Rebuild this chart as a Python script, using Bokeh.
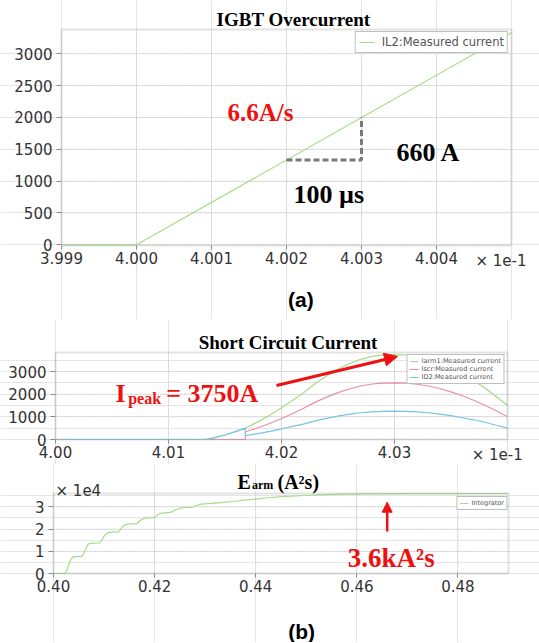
from bokeh.plotting import figure
from bokeh.models import (Label, Arrow, NormalHead, FixedTicker, PrintfTickFormatter, Range1d,
                          LinearAxis, BoxAnnotation)
from bokeh.layouts import column
from bokeh.embed import file_html
from bokeh.resources import INLINE
import numpy as np

# ---------------- data ----------------
# (a) IGBT overcurrent, time in units of 1e-1 s
il2_t = [3.999, 4.000, 4.005]
il2_i = [0, 0, 3330]
a_xticks = [3.999, 4.000, 4.001, 4.002, 4.003, 4.004]
a_yticks = [0, 500, 1000, 1500, 2000, 2500, 3000]
slope_t = [4.002, 4.003]

# (b) short-circuit currents
iarm1_t = [4.000, 4.013, 4.0135, 4.014, 4.015, 4.016, 4.0168, 4.0175, 4.018, 4.019, 4.020,
           4.021, 4.022, 4.023, 4.024, 4.025, 4.026, 4.027, 4.028, 4.029, 4.030, 4.031,
           4.032, 4.033, 4.034, 4.035, 4.036, 4.037, 4.038, 4.039, 4.040]
iarm1_i = [0, 0, 20, 70, 200, 360, 500, 680, 800, 1080, 1400,
           1730, 2080, 2470, 2800, 3100, 3350, 3540, 3670, 3735, 3750, 3730,
           3660, 3540, 3370, 3150, 2890, 2600, 2270, 1900, 1500]

iscr_t = [4.000, 4.0168, 4.0168, 4.0175, 4.018, 4.019, 4.020, 4.021, 4.022, 4.023, 4.024,
          4.025, 4.026, 4.027, 4.028, 4.029, 4.030, 4.031, 4.032, 4.033, 4.034, 4.035,
          4.036, 4.037, 4.038, 4.039, 4.040]
iscr_i = [0, 0, 330, 450, 530, 720, 930, 1150, 1390, 1650, 1870,
          2070, 2230, 2360, 2450, 2490, 2500, 2490, 2440, 2360, 2250, 2100,
          1930, 1730, 1510, 1270, 1000]

id2_t = [4.000, 4.013, 4.0135, 4.014, 4.015, 4.016, 4.0168, 4.0168, 4.0175, 4.018, 4.019,
         4.020, 4.021, 4.022, 4.023, 4.024, 4.025, 4.026, 4.027, 4.028, 4.029, 4.030,
         4.031, 4.032, 4.033, 4.034, 4.035, 4.036, 4.037, 4.038, 4.039, 4.040]
id2_i = [0, 0, 20, 70, 200, 360, 500, 170, 230, 270, 360,
         470, 580, 690, 820, 930, 1030, 1120, 1180, 1220, 1245, 1250,
         1245, 1220, 1180, 1120, 1050, 960, 870, 760, 630, 500]
b1_xticks = [4.00, 4.01, 4.02, 4.03]
b1_yticks = [0, 1000, 2000, 3000]

# (b) integrator (x 1e4 A^2 s)
integ_t = [0.400, 0.4022, 0.4026, 0.4030, 0.4034, 0.4038, 0.4043, 0.4056, 0.4060, 0.4064,
           0.4068, 0.4072, 0.4078, 0.4092, 0.4096, 0.4100, 0.4105, 0.4110, 0.4116, 0.4129,
           0.4133, 0.4138, 0.4144, 0.4150, 0.4156, 0.4165, 0.4169, 0.4174, 0.4179, 0.4185,
           0.4198, 0.4203, 0.4209, 0.4216, 0.4231, 0.4237, 0.4244, 0.4252, 0.4262, 0.4274,
           0.4283, 0.4292, 0.4305, 0.4317, 0.4335, 0.4356, 0.4378, 0.4399, 0.4429, 0.4460,
           0.4495, 0.4530, 0.4568, 0.4620, 0.4700, 0.4800, 0.4900]
integ_v = [0, 0, 0.12, 0.38, 0.62, 0.74, 0.76, 0.77, 0.90, 1.12,
           1.30, 1.36, 1.37, 1.38, 1.52, 1.68, 1.80, 1.85, 1.86, 1.87,
           2.00, 2.14, 2.21, 2.23, 2.23, 2.24, 2.33, 2.43, 2.48, 2.50,
           2.51, 2.59, 2.68, 2.73, 2.75, 2.81, 2.89, 2.94, 2.97, 2.98,
           3.06, 3.12, 3.14, 3.17, 3.20, 3.24, 3.30, 3.35, 3.42, 3.47,
           3.51, 3.54, 3.57, 3.585, 3.59, 3.595, 3.60]
b2_xticks = [0.40, 0.42, 0.44, 0.46, 0.48]
b2_yticks = [0, 1, 2, 3]

GREEN = "#a6dc88"
PINK = "#e98fa8"
BLUE = "#78c4e6"
RED = "#ee1111"
FRAME = "#a0a0a0"
SERIF = "Liberation Serif"
SANS = "DejaVu Sans"
W = 539


def style_axis(ax):
    ax.major_label_text_font = SANS
    ax.major_label_text_font_size = "15px"
    ax.major_label_text_color = "#333333"
    ax.major_tick_in = 0
    ax.minor_tick_line_color = None
    ax.major_tick_line_color = "#8a8a8a"
    ax.axis_line_color = None


class Panel:
    """A figure whose frame is the whole canvas; the visible plot box is drawn inside it."""

    def __init__(self, top, height, box, xr, yr, xt, yt, xfmt, yfmt):
        self.top = top
        self.box = box          # page pixels: left, top, right, bottom of the plot box
        self.xr, self.yr = xr, yr
        x0 = self.X(0)
        x1 = self.X(W)
        y0 = self.Y(top + height)
        y1 = self.Y(top)
        p = figure(frame_width=W, frame_height=height, x_range=Range1d(x0, x1),
                   y_range=Range1d(y0, y1), output_backend="svg", toolbar_location=None,
                   x_axis_location=None, y_axis_location=None,
                   min_border_left=0, min_border_right=0, min_border_top=0, min_border_bottom=0)
        p.outline_line_color = None
        p.background_fill_color = "white"
        p.border_fill_color = "white"
        # dotted grid from the tick lists
        p.segment(x0=xt, y0=[yr[0]] * len(xt), x1=xt, y1=[yr[1]] * len(xt),
                  line_color="#c6c6c6", line_dash="1 2", line_width=1)
        p.segment(x0=[xr[0]] * len(yt), y0=yt, x1=[xr[1]] * len(yt), y1=yt,
                  line_color="#c6c6c6", line_dash="1 2", line_width=1)
        xa = LinearAxis(fixed_location=yr[0], bounds=xr, ticker=FixedTicker(ticks=xt),
                        formatter=PrintfTickFormatter(format=xfmt))
        ya = LinearAxis(fixed_location=xr[0], bounds=yr, ticker=FixedTicker(ticks=yt),
                        formatter=PrintfTickFormatter(format=yfmt))
        style_axis(xa)
        style_axis(ya)
        xa.major_tick_out = 4
        xa.major_label_standoff = 2
        ya.major_tick_out = 5
        ya.major_label_standoff = 4
        p.add_layout(xa, "below")
        p.add_layout(ya, "left")
        self.p = p

    def X(self, px):
        L, T, R, B = self.box
        return self.xr[0] + (px - L) / (R - L) * (self.xr[1] - self.xr[0])

    def Y(self, py):
        L, T, R, B = self.box
        return self.yr[1] - (py - T) / (B - T) * (self.yr[1] - self.yr[0])

    def unit_label(self, px_center, text):
        # the "x 1e-1" multiplier, written on the tick-label line by a second axis
        ua = LinearAxis(fixed_location=self.yr[0], ticker=FixedTicker(ticks=[self.X(px_center)]),
                        formatter=PrintfTickFormatter(format=text))
        style_axis(ua)
        ua.major_tick_line_color = None
        ua.major_tick_out = 4
        ua.major_label_standoff = 2
        self.p.add_layout(ua, "below")

    def frame_box(self):
        self.p.add_layout(BoxAnnotation(left=self.xr[0], right=self.xr[1], bottom=self.yr[0],
                                        top=self.yr[1], fill_color=None, line_color=FRAME,
                                        line_width=2))

    def lab(self, px, py, text, size, color="black", font=SERIF, style="bold", align="left"):
        self.p.add_layout(Label(x=self.X(px), y=self.Y(py), text=text, text_font=font,
                                text_font_size=size, text_font_style=style, text_color=color,
                                text_align=align, text_baseline="alphabetic"))

    def arrow(self, px0, py0, px1, py1, size, width):
        self.p.add_layout(Arrow(end=NormalHead(size=size, fill_color=RED, line_color=RED),
                                x_start=self.X(px0), y_start=self.Y(py0),
                                x_end=self.X(px1), y_end=self.Y(py1),
                                line_color=RED, line_width=width))

    def legend(self, font, gw, gh, lh, pad, stand, margin):
        lg = self.p.legend[0]
        lg.location = "top_right"
        lg.label_text_font = SANS
        lg.label_text_font_size = font
        lg.label_text_color = "#555555"
        lg.glyph_width = gw
        lg.glyph_height = gh
        lg.label_height = lh
        lg.padding = pad
        lg.spacing = 0
        lg.label_standoff = stand
        lg.margin = margin
        lg.border_line_color = "#808080"
        lg.border_line_width = 1
        lg.background_fill_alpha = 1


# ---------------- (a) ----------------
A = Panel(0, 319, (61, 29, 511, 245), (3.999, 4.005), (-11, 3381),
          a_xticks, a_yticks, "%.3f", "%d")
A.p.line(il2_t, il2_i, line_color=GREEN, line_width=1.2, legend_label="IL2:Measured current")
slope_i = np.interp(slope_t, il2_t, il2_i)
A.p.line([slope_t[0], slope_t[1], slope_t[1]], [slope_i[0], slope_i[0], slope_i[1]],
         line_color="#7a7a7a", line_width=3, line_dash="6 3")
A.frame_box()
A.legend("11.5px", 16, 14, 14, 3, 7, 31)
A.unit_label(500.5, "× 1e-1")
A.lab(293, 19, "IGBT Overcurrent", "19px", align="center")
A.lab(227, 112, "6.6A/s", "25px", color=RED)
A.lab(396, 151.7, "660 A", "26px")
A.lab(293, 194, "100 µs", "26px")
A.lab(287.5, 299, "(a)", "21px", font="Liberation Sans")

# ---------------- (b) currents ----------------
B = Panel(319, 145, (55, 352, 507, 439), (4.0, 4.04), (0, 3840),
          b1_xticks, b1_yticks, "%.2f", "%d")
B.p.line(iarm1_t, iarm1_i, line_color=GREEN, line_width=1.2, legend_label="Iarm1:Measured current")
B.p.line(iscr_t, iscr_i, line_color=PINK, line_width=1.2, legend_label="Iscr:Measured current")
B.p.line(id2_t, id2_i, line_color=BLUE, line_width=1.2, legend_label="ID2:Measured current")
B.frame_box()
B.legend("6.6px", 9, 8, 8, 2, 3, 35)
B.unit_label(496.7, "× 1e-1")
B.lab(287.5, 342.3, "Short Circuit Current", "19px", align="center")
B.lab(115, 393.3, "I", "26px", color=RED)
B.lab(127.7, 397.5, "peak", "16px", color=RED)
B.lab(165.7, 393.3, "= 3750A", "26px", color=RED)
B.arrow(276, 385, 397, 356, 13, 3)

# ---------------- (b) integrator ----------------
C = Panel(464, 178, (53, 493, 508, 573), (0.40, 0.49), (0, 3.6),
          b2_xticks, b2_yticks, "%.2f", "%d")
C.p.line(integ_t, integ_v, line_color=GREEN, line_width=1.2, legend_label="Integrator")
C.frame_box()
C.legend("6.5px", 9, 8, 8, 2, 3, 32)
C.lab(237, 481, "E", "20px")
C.lab(251.5, 484, "arm", "12px")
C.lab(277, 481, "(A²s)", "20px")
C.lab(55, 490, "× 1e4", "15px", color="#333333", font=SANS, style="normal")
C.lab(347.3, 557.3, "3.6kA²s", "27px", color=RED)
C.lab(287.8, 631, "(b)", "21px", font="Liberation Sans")
C.arrow(386.7, 531, 386.7, 501.7, 10, 2.5)

layout = column(A.p, B.p, C.p, spacing=0)
open("out.html", "w").write(file_html(layout, INLINE))
